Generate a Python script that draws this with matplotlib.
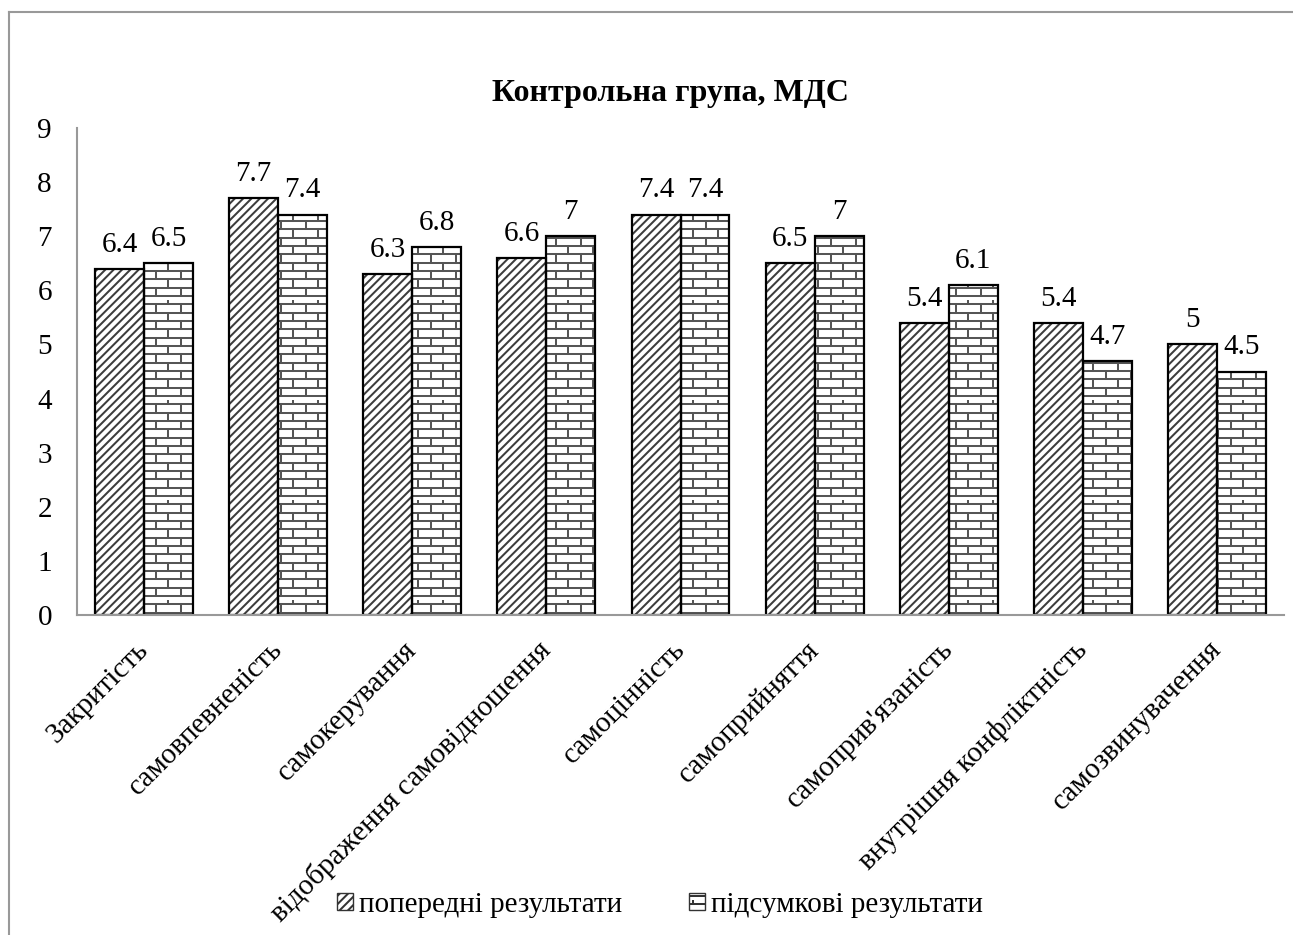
import warnings
import numpy as np
import matplotlib
matplotlib.use("Agg")
import matplotlib.pyplot as plt
import matplotlib.hatch as mhatch
from matplotlib.path import Path
from matplotlib.patches import Patch
from matplotlib.lines import Line2D

warnings.filterwarnings("ignore")

categories = ["Закритість", "самовпевненість", "самокерування",
              "відображення самовідношення", "самоцінність", "самоприйняття",
              "самоприв'язаність", "внутрішня конфліктність", "самозвинувачення"]
prior = [6.4, 7.7, 6.3, 6.6, 7.4, 6.5, 5.4, 5.4, 5.0]
final = [6.5, 7.4, 6.8, 7.0, 7.4, 7.0, 6.1, 4.7, 4.5]
series_names = ["попередні результати", "підсумкові результати"]
title = "Контрольна група, МДС"
yticks = list(range(0, 10))


class BrickHatch(mhatch.HatchPatternBase):
    """Brick-wall hatch (12 courses, 4 bricks per tile course)."""

    def __init__(self, hatch, density):
        n = hatch.count('b')
        self.rows = 12 if n else 0
        self.cols = 4
        self.num_vertices = (self.rows + self.rows * self.cols) * 2

    def set_vertices_and_codes(self, vertices, codes):
        rows, cols = self.rows, self.cols
        edges = np.round(np.arange(rows + 1) * 100.0 / rows) / 100.0 + 0.04
        i = 0
        for k in range(rows):
            y = edges[k]
            vertices[i] = (0.0, y); vertices[i + 1] = (1.0, y)
            codes[i] = Path.MOVETO; codes[i + 1] = Path.LINETO
            i += 2
        for k in range(rows):
            y0, y1 = edges[k], edges[k + 1]
            for j in range(cols):
                xpx = 25 * j + 6 + (12 if k % 2 else 0)
                vertices[i] = (xpx / 100.0, y0); vertices[i + 1] = (xpx / 100.0, y1)
                codes[i] = Path.MOVETO; codes[i + 1] = Path.LINETO
                i += 2


mhatch._hatch_types.append(BrickHatch)

plt.rcParams['font.family'] = ['Liberation Serif', 'DejaVu Serif']
plt.rcParams['hatch.linewidth'] = 1.45

FS = 21

fig = plt.figure(figsize=(12.93, 9.35), dpi=100)
ax = fig.add_axes([77 / 1293, 1 - 615 / 935, (1284 - 77) / 1293, (615 - 128) / 935])

x = np.arange(len(categories))
w = 0.365
b1 = ax.bar(x - w / 2, prior, w, facecolor='white', edgecolor='#3c3c3c', hatch='////', linewidth=0)
b2 = ax.bar(x + w / 2, final, w, facecolor='white', edgecolor='#555555', hatch='b', linewidth=0)
e1 = ax.bar(x - w / 2, prior, w, facecolor='none', edgecolor='black', linewidth=1.6)
e2 = ax.bar(x + w / 2, final, w, facecolor='none', edgecolor='black', linewidth=1.6)

for bars, vals in ((e1, prior), (e2, final)):
    ax.bar_label(bars, labels=[f"{v:g}" for v in vals], padding=8, fontsize=FS)

ax.set_xlim(-0.5, len(categories) - 0.5)
ax.set_ylim(0, 9)
ax.set_yticks(yticks)
ax.tick_params(axis='y', length=0, pad=18, labelsize=FS)
ax.set_xticks(x)
ax.set_xticklabels(categories, rotation=45, ha='right', va='center',
                   rotation_mode='anchor', fontsize=FS)
ax.tick_params(axis='x', length=0, pad=22)
for s in ('top', 'right'):
    ax.spines[s].set_visible(False)
for s in ('left', 'bottom'):
    ax.spines[s].set_color('#999999')
    ax.spines[s].set_linewidth(1.5)

fig.text(670 / 1293, 1 - 93 / 935, title, ha='center', va='center', fontsize=23, fontweight='bold')

handles = [Patch(facecolor='white', edgecolor='#333333', hatch='////', linewidth=1),
           Patch(facecolor='white', edgecolor='#333333', hatch='b', linewidth=1)]
fig.legend(handles, series_names, loc='center', bbox_to_anchor=(660 / 1293, 1 - 905 / 935),
           ncol=2, frameon=False, fontsize=FS, handlelength=0.55, handleheight=0.55,
           handletextpad=0.2, columnspacing=2.3)

# outer chart frame
fig.add_artist(Line2D([9 / 1293, 9 / 1293], [0, 1 - 12 / 935], transform=fig.transFigure,
                      color='#999999', linewidth=1.5))
fig.add_artist(Line2D([9 / 1293, 1], [1 - 12 / 935, 1 - 12 / 935], transform=fig.transFigure,
                      color='#999999', linewidth=1.5))

fig.savefig("out.png", dpi=100)
